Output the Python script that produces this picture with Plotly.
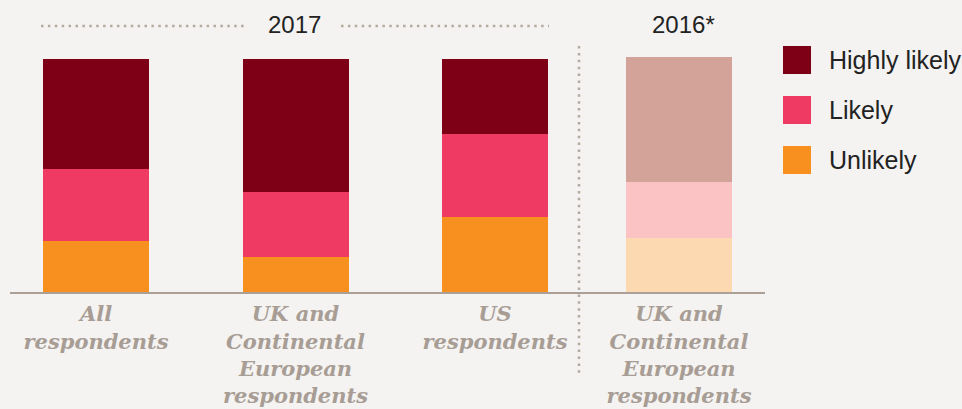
import plotly.graph_objects as go

# ---------------- data ----------------
categories_2017 = ["All respondents", "UK and Continental European respondents", "US respondents"]
ticklabels_2017 = ["All<br>respondents", "UK and<br>Continental<br>European<br>respondents", "US<br>respondents"]
highly_likely_2017 = [47, 57, 32]
likely_2017 = [31, 28, 36]
unlikely_2017 = [22, 15, 32]

categories_2016 = ["UK and Continental European respondents (2016)"]
ticklabels_2016 = ["UK and<br>Continental<br>European<br>respondents"]
highly_likely_2016 = [54]
likely_2016 = [24]
unlikely_2016 = [23]

series_names = ["Highly likely", "Likely", "Unlikely"]
group_titles = ["2017", "2016*"]

# ---------------- styles ----------------
W, H = 962, 409
BG = "#f4f3f1"
colors_2017 = {"Highly likely": "#7d0017", "Likely": "#ef3a63", "Unlikely": "#f7901e"}
colors_2016 = {"Highly likely": "#d3a39a", "Likely": "#fbc3c3", "Unlikely": "#fcd9b1"}
DOT = "#b3aaa2"
AXIS = "#aaa098"
LABEL = "#a89d95"
TXT = "#222222"
SANS = "Liberation Sans, Arial, sans-serif"


def px_x(p):
    return p / W


def px_y(p):
    return 1 - p / H


fig = go.Figure()

stack_2017 = [("Unlikely", unlikely_2017), ("Likely", likely_2017), ("Highly likely", highly_likely_2017)]
for name, vals in stack_2017:
    fig.add_trace(go.Bar(x=categories_2017, y=vals, name=name, marker_color=colors_2017[name],
                         marker_line_width=0, xaxis="x", yaxis="y", showlegend=False,
                         hoverinfo="skip"))

stack_2016 = [("Unlikely", unlikely_2016), ("Likely", likely_2016), ("Highly likely", highly_likely_2016)]
for name, vals in stack_2016:
    fig.add_trace(go.Bar(x=categories_2016, y=vals, name=name + " 2016", marker_color=colors_2016[name],
                         marker_line_width=0, xaxis="x2", yaxis="y2", showlegend=False,
                         hoverinfo="skip"))

# custom legend drawn in its own small axes
fig.add_trace(go.Scatter(x=[0] * len(series_names), y=series_names, mode="markers",
                         marker=dict(symbol="square", size=28, color=[colors_2017[n] for n in series_names],
                                     line_width=0),
                         xaxis="x3", yaxis="y3", showlegend=False, hoverinfo="skip"))
fig.add_trace(go.Scatter(x=[1] * len(series_names), y=series_names, mode="text", text=series_names,
                         textposition="middle right",
                         textfont=dict(family=SANS, size=25, color=TXT),
                         xaxis="x3", yaxis="y4", showlegend=False, hoverinfo="skip"))

unit = 199.5  # px per category
y_top, y_base = 40, 292
ymax = (y_base - y_top) / 2.33

tickfont = dict(family="DejaVu Serif", size=21, color=LABEL, weight="bold", style="italic")

fig.update_layout(
    width=W, height=H, paper_bgcolor=BG, plot_bgcolor="rgba(0,0,0,0)",
    margin=dict(l=0, r=0, t=0, b=0),
    barmode="stack", bargap=1 - 106 / unit,
    showlegend=False,
    xaxis=dict(domain=[px_x(10), px_x(578)], range=[-(96 - 10) / unit, (578 - 96) / unit],
               tickmode="array", tickvals=categories_2017, ticktext=ticklabels_2017,
               showline=True, linecolor=AXIS, linewidth=2, ticks="outside", ticklen=2,
               tickcolor="rgba(0,0,0,0)", showgrid=False,
               zeroline=False, tickfont=tickfont, automargin=False, fixedrange=True),
    yaxis=dict(domain=[px_y(y_base), px_y(y_top)], range=[0, ymax], visible=False, fixedrange=True),
    xaxis2=dict(domain=[px_x(578), px_x(765)], range=[-(679 - 578) / unit, (765 - 679) / unit],
                tickmode="array", tickvals=categories_2016, ticktext=ticklabels_2016,
                showline=True, linecolor=AXIS, linewidth=2, ticks="outside", ticklen=2,
                tickcolor="rgba(0,0,0,0)", showgrid=False,
                zeroline=False, tickfont=tickfont, automargin=False, fixedrange=True),
    yaxis2=dict(domain=[px_y(y_base), px_y(y_top)], range=[0, ymax], visible=False, fixedrange=True,
                anchor="x2"),
    xaxis3=dict(domain=[px_x(783), px_x(962)], range=[-14 / 32, (962 - 797) / 32],
                visible=False, fixedrange=True),
    yaxis3=dict(domain=[px_y(185), px_y(35)], range=[2.5, -0.5], visible=False, fixedrange=True,
                anchor="x3", categoryorder="array", categoryarray=series_names),
    yaxis4=dict(domain=[px_y(188), px_y(38)], range=[2.5, -0.5], visible=False, fixedrange=True,
                anchor="x3", categoryorder="array", categoryarray=series_names),
)

# group headings
fig.add_annotation(x=px_x(294), y=px_y(24), xref="paper", yref="paper", text=group_titles[0],
                   xanchor="center", yanchor="middle",
                   showarrow=False, font=dict(family=SANS, size=24, color=TXT))
fig.add_annotation(x=px_x(683), y=px_y(24), xref="paper", yref="paper", text=group_titles[1],
                   xanchor="center", yanchor="middle",
                   showarrow=False, font=dict(family=SANS, size=24, color=TXT))

# dotted separators
dot_line = dict(color=DOT, width=2.5, dash="2.5px,4.4px")
fig.add_shape(type="line", xref="paper", yref="paper", x0=px_x(41), x1=px_x(248), y0=px_y(26), y1=px_y(26), line=dot_line)
fig.add_shape(type="line", xref="paper", yref="paper", x0=px_x(341), x1=px_x(549), y0=px_y(26), y1=px_y(26), line=dot_line)
fig.add_shape(type="line", xref="paper", yref="paper", x0=px_x(579), x1=px_x(579), y0=px_y(46), y1=px_y(376), line=dot_line)

fig.write_html("out.html", config={"displayModeBar": False},
               post_script="document.body.style.margin='0';document.body.style.background='%s';" % BG)
